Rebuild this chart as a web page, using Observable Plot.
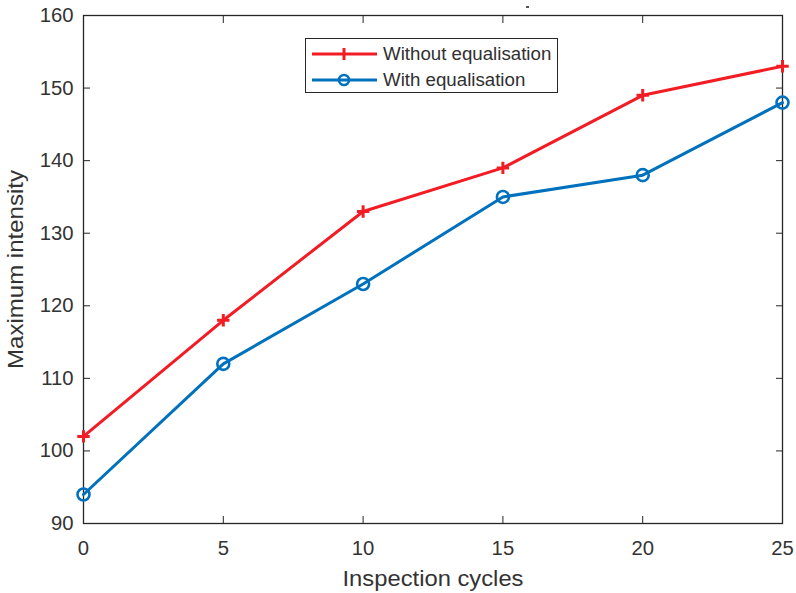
<!DOCTYPE html>
<html><head><meta charset="utf-8">
<script src="https://cdn.jsdelivr.net/npm/d3@7"></script>
<script src="https://cdn.jsdelivr.net/npm/@observablehq/plot@0.6"></script>
<style>
body{margin:0;background:#fff;font-family:"Liberation Sans",Arial,sans-serif;}
#wrap{position:relative;width:796px;height:593px;}
#legend{position:absolute;left:305px;top:38px;width:253px;height:55px;border:1.3px solid #262626;background:#fff;box-sizing:border-box;font-size:18.7px;color:#303030;}
.row{position:absolute;left:6px;height:22px;display:flex;align-items:center;}
.row span{margin-left:6px;white-space:nowrap;}
#dash{position:absolute;left:526px;top:6px;width:3px;height:1.5px;background:#555;}
</style></head>
<body><div id="wrap"><div id="legend"></div><div id="dash"></div></div>
<script>
const cycles = [0, 5, 10, 15, 20, 25];
const withoutEq = [102, 118, 133, 139, 149, 153];
const withEq = [94, 112, 123, 135, 138, 148];
const seriesNames = ["Without equalisation", "With equalisation"];
const colors = ["#f21c24", "#0072bd"];
const xTicks = [0, 5, 10, 15, 20, 25];
const yTicks = [90, 100, 110, 120, 130, 140, 150, 160];

const rows = [];
cycles.forEach((c, i) => {
  rows.push({x: c, y: withoutEq[i], s: seriesNames[0]});
  rows.push({x: c, y: withEq[i], s: seriesNames[1]});
});

const plusSym = {draw(ctx, size) { const r = Math.sqrt(size) * 0.5; ctx.moveTo(-r, 0); ctx.lineTo(r, 0); ctx.moveTo(0, -r); ctx.lineTo(0, r); }};
const ink = "#262626";

const chart = Plot.plot({
  width: 796, height: 593,
  marginLeft: 83, marginRight: 14, marginTop: 15, marginBottom: 70,
  style: {fontFamily: '"Liberation Sans", Arial, sans-serif', color: ink, background: "white"},
  x: {domain: [0, 25]},
  y: {domain: [90, 160]},
  marks: [
    Plot.frame({stroke: ink, strokeWidth: 1.3}),
    Plot.axisX({anchor: "bottom", ticks: xTicks, tickSize: -7, tickPadding: 24, fontSize: 20, label: "Inspection cycles", labelAnchor: "center", labelOffset: 62, labelArrow: "none", stroke: ink, color: ink}),
    Plot.axisX({anchor: "top", ticks: xTicks, tickSize: -7, tickFormat: () => "", label: null, stroke: ink}),
    Plot.axisY({anchor: "left", ticks: yTicks, tickSize: -7, tickPadding: 17, fontSize: 20, label: "Maximum intensity", labelAnchor: "center", labelOffset: 76, labelArrow: "none", stroke: ink, color: ink}),
    Plot.axisY({anchor: "right", ticks: yTicks, tickSize: -7, tickFormat: () => "", label: null, stroke: ink}),
    Plot.line(rows, {x: "x", y: "y", z: "s", stroke: d => d.s, strokeWidth: 3}),
    Plot.dot(rows.filter(d => d.s === seriesNames[0]), {x: "x", y: "y", symbol: plusSym, r: 7, stroke: colors[0], strokeWidth: 3, fill: "none"}),
    Plot.dot(rows.filter(d => d.s === seriesNames[1]), {x: "x", y: "y", symbol: "circle", r: 6, stroke: colors[1], strokeWidth: 2.6, fill: "none"})
  ],
  color: {domain: seriesNames, range: colors}
});
chart.querySelectorAll('g[aria-label$="tick label"] text').forEach(n => { n.style.fontSize = "20.3px"; n.style.fill = "#333"; });
const labLen = {"x-axis label": 181, "y-axis label": 199};
chart.querySelectorAll('g[aria-label$="axis label"]').forEach(g => {
  const L = labLen[g.getAttribute("aria-label")];
  g.querySelectorAll("text").forEach(n => {
    n.style.fontSize = "21.5px"; n.style.fill = "#333";
    if (L) { n.setAttribute("textLength", L); n.setAttribute("lengthAdjust", "spacingAndGlyphs"); }
  });
});
document.getElementById("wrap").prepend(chart);

const legend = document.getElementById("legend");
seriesNames.forEach((name, i) => {
  const row = document.createElement("div");
  row.className = "row";
  row.style.top = (4 + i * 26) + "px";
  const sym = i === 0
    ? `<line x1="32" y1="5" x2="32" y2="17" stroke="${colors[i]}" stroke-width="3"/>`
    : `<circle cx="32" cy="11" r="5" fill="none" stroke="${colors[i]}" stroke-width="2.6"/>`;
  row.innerHTML = `<svg width="65" height="22"><line x1="0" y1="11" x2="65" y2="11" stroke="${colors[i]}" stroke-width="3"/>${sym}</svg><span>${name}</span>`;
  legend.appendChild(row);
});
</script></body></html>
